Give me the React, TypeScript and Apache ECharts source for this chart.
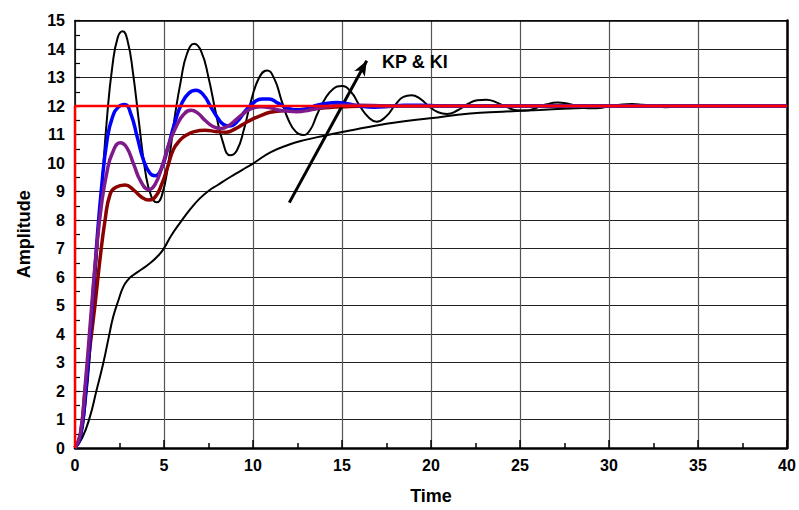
import React, { useEffect, useRef } from "react";
import * as echarts from "echarts";

const xTicks = { min: 0, max: 40, interval: 5 };
const yTicks = { min: 0, max: 15, interval: 1 };

const setpoint: number[][] = [[0, 0], [0, 12], [40, 12]];

const blackFast: number[][] = [
  [0, 0], [0.3, 0.3], [0.6, 1.6], [0.9, 3.8], [1.2, 6.5], [1.5, 9.1], [1.8, 11.6], [2.1, 13.4],
  [2.4, 14.4], [2.68, 14.62], [2.95, 14.3], [3.25, 13.2], [3.6, 11.4], [3.95, 9.7], [4.3, 8.8],
  [4.6, 8.62], [4.9, 8.9], [5.25, 10.0], [5.6, 11.6], [5.95, 12.9], [6.3, 13.85], [6.7, 14.18],
  [7.1, 13.9], [7.5, 13.0], [7.9, 11.8], [8.3, 10.75], [8.72, 10.27], [9.1, 10.45], [9.5, 11.2],
  [9.9, 12.2], [10.35, 13.0], [10.78, 13.25], [11.2, 12.95], [11.6, 12.2], [12.0, 11.5],
  [12.4, 11.1], [12.8, 10.98], [13.2, 11.15], [13.6, 11.7], [14.0, 12.2], [14.5, 12.6],
  [14.98, 12.7], [15.5, 12.5], [16.0, 12.0], [16.5, 11.6], [16.95, 11.45], [17.5, 11.65],
  [18.0, 12.05], [18.45, 12.32], [18.9, 12.38], [19.4, 12.25], [19.9, 11.98], [20.4, 11.78],
  [20.9, 11.72], [21.5, 11.85], [22.1, 12.08], [22.6, 12.2], [23.1, 12.22], [23.7, 12.12],
  [24.3, 11.95], [24.8, 11.85], [25.3, 11.84], [25.9, 11.93], [26.5, 12.06], [27.1, 12.12],
  [27.7, 12.08], [28.3, 11.99], [28.8, 11.92], [29.3, 11.92], [29.9, 11.97], [30.6, 12.04],
  [31.3, 12.07], [31.9, 12.04], [32.5, 11.99], [33.2, 11.96], [33.9, 11.98], [34.6, 12.02],
  [35.4, 12.03], [36.2, 12.01], [37.0, 11.99], [37.8, 11.99], [38.6, 12.0], [40, 12.0],
];

const blue: number[][] = [
  [0, 0], [0.3, 0.4], [0.6, 2.0], [0.9, 4.4], [1.2, 7.0], [1.5, 9.2], [1.8, 10.8], [2.1, 11.6],
  [2.45, 11.97], [2.8, 12.05], [3.15, 11.7], [3.5, 10.9], [3.85, 10.1], [4.2, 9.65], [4.5, 9.55],
  [4.85, 9.8], [5.2, 10.5], [5.6, 11.4], [6.0, 12.1], [6.4, 12.45], [6.8, 12.55], [7.2, 12.4],
  [7.6, 12.0], [8.0, 11.6], [8.35, 11.35], [8.7, 11.3], [9.1, 11.45], [9.6, 11.85], [10.1, 12.15],
  [10.5, 12.25], [10.9, 12.25], [11.4, 12.1], [11.9, 11.93], [12.45, 11.86], [13.0, 11.9],
  [13.6, 12.03], [14.2, 12.1], [14.7, 12.12], [15.3, 12.08], [16.0, 12.0], [16.8, 11.96],
  [17.6, 11.98], [18.5, 12.03], [19.4, 12.03], [20.5, 12.0], [40, 12.0],
];

const purple: number[][] = [
  [0, 0], [0.3, 0.5], [0.6, 2.4], [0.9, 4.7], [1.2, 6.9], [1.5, 8.6], [1.8, 9.7], [2.1, 10.35],
  [2.53, 10.71], [2.9, 10.55], [3.3, 9.95], [3.7, 9.35], [4.15, 9.07], [4.5, 9.25], [4.9, 9.9],
  [5.3, 10.7], [5.7, 11.3], [6.1, 11.7], [6.52, 11.85], [6.9, 11.75], [7.3, 11.5], [7.75, 11.28],
  [8.2, 11.21], [8.6, 11.3], [9.1, 11.55], [9.6, 11.8], [10.0, 11.93], [10.45, 11.97],
  [10.9, 11.95], [11.5, 11.85], [12.45, 11.8], [13.2, 11.86], [14.0, 11.96], [15.0, 12.03],
  [16.0, 12.03], [17.5, 12.0], [40, 12.0],
];

const maroon: number[][] = [
  [0, 0], [0.3, 0.45], [0.56, 2.0], [0.85, 3.6], [1.12, 5.0], [1.4, 6.6], [1.69, 8.0], [1.97, 8.9],
  [2.3, 9.15], [2.81, 9.23], [3.3, 9.05], [3.75, 8.8], [4.15, 8.7], [4.5, 8.8], [4.9, 9.3],
  [5.2, 9.85], [5.52, 10.46], [5.9, 10.8], [6.27, 10.98], [6.7, 11.1], [7.3, 11.15], [7.96, 11.1],
  [8.5, 11.08], [9.0, 11.2], [9.5, 11.38], [10.0, 11.55], [10.5, 11.68], [10.96, 11.78],
  [11.8, 11.84], [12.8, 11.88], [13.8, 11.92], [15.0, 11.97], [16.5, 12.0], [40, 12.0],
];

const blackSlow: number[][] = [
  [0, 0], [0.4, 0.35], [0.84, 1.1], [1.2, 2.0], [1.59, 2.98], [1.9, 3.9], [2.15, 4.61],
  [2.45, 5.2], [2.72, 5.66], [3.0, 5.92], [3.28, 6.07], [3.75, 6.27], [4.21, 6.48], [4.6, 6.7],
  [4.96, 6.97], [5.4, 7.45], [5.9, 7.9], [6.5, 8.4], [7.0, 8.75], [7.5, 9.02], [8.0, 9.22],
  [8.7, 9.5], [9.4, 9.76], [10.02, 9.99], [11.0, 10.38], [12.0, 10.64], [13.0, 10.82],
  [13.95, 10.95], [15.3, 11.12], [16.57, 11.27], [18.0, 11.42], [19.94, 11.57], [22.2, 11.74],
  [24.0, 11.8], [26.1, 11.86], [28.5, 11.93], [31.7, 12.0], [35, 12.0], [40, 12.0],
];

const arrowStart = [12.04, 8.61];
const arrowEnd = [16.39, 13.59];
const arrowText = "KP & KI";
const xName = "Time";
const yName = "Amplitude";

const FONT = "'Liberation Sans', Arial, Helvetica, sans-serif";

export default function App() {
  const ref = useRef<HTMLDivElement>(null);
  useEffect(() => {
    document.body.style.margin = "0";
    const chart = echarts.init(ref.current!, null, { renderer: "svg" });
    const labelStyle = { color: "#000", fontWeight: "bold" as const, fontSize: 16, fontFamily: FONT };
    const line = (data: number[][], color: string, width: number, z: number, extra: any = {}) => ({
      type: "line",
      data,
      smooth: 0.5,
      symbol: "none",
      lineStyle: { color, width },
      z,
      ...extra,
    });
    chart.setOption({
      animation: false,
      backgroundColor: "#fff",
      grid: { left: 75, right: 12, top: 20.5, bottom: 62, containLabel: false },
      xAxis: [
        {
          type: "value",
          position: "bottom",
          min: xTicks.min,
          max: xTicks.max,
          interval: xTicks.interval,
          name: xName,
          nameLocation: "middle",
          nameGap: 39,
          nameTextStyle: { ...labelStyle, fontSize: 18 },
          axisLine: { show: true, onZero: false, lineStyle: { color: "#000", width: 2.5 } },
          axisTick: { show: true, inside: true, length: 8, lineStyle: { color: "#000", width: 1.5 } },
          minorTick: { show: true, splitNumber: 2, length: 5, lineStyle: { color: "#000", width: 1.5 } },
          axisLabel: { ...labelStyle, margin: 9 },
          splitLine: { show: true, lineStyle: { color: "#555", width: 1.2 } },
        },
        {
          type: "value",
          position: "top",
          min: xTicks.min,
          max: xTicks.max,
          interval: xTicks.interval,
          axisLine: { show: true, onZero: false, lineStyle: { color: "#000", width: 1.5 } },
          axisTick: { show: false },
          axisLabel: { show: false },
          splitLine: { show: false },
        },
      ],
      yAxis: [
        {
          type: "value",
          position: "left",
          min: yTicks.min,
          max: yTicks.max,
          interval: yTicks.interval,
          name: yName,
          nameLocation: "middle",
          nameGap: 42,
          nameRotate: 90,
          nameTextStyle: { ...labelStyle, fontSize: 18 },
          axisLine: { show: true, onZero: false, lineStyle: { color: "#000", width: 1.5 } },
          axisTick: { show: true, inside: true, length: 5, lineStyle: { color: "#000", width: 1.2 } },
          minorTick: { show: true, splitNumber: 2, length: 5, lineStyle: { color: "#000", width: 1.2 } },
          axisLabel: { ...labelStyle, margin: 10 },
          splitLine: { show: true, lineStyle: { color: "#222", width: 1 } },
        },
        {
          type: "value",
          position: "right",
          min: yTicks.min,
          max: yTicks.max,
          interval: yTicks.interval,
          axisLine: { show: true, onZero: false, lineStyle: { color: "#000", width: 2.5 } },
          axisTick: { show: false },
          axisLabel: { show: false },
          splitLine: { show: false },
        },
      ],
      series: [
        line(blackSlow, "#000", 2, 2, {
          markLine: {
            silent: true,
            symbol: ["none", "arrow"],
            symbolSize: [9, 15],
            label: { show: false },
            lineStyle: { color: "#000", width: 3, type: "solid" },
            data: [[{ coord: arrowStart }, { coord: arrowEnd }]],
          },
        }),
        line(blackFast, "#000", 2, 3),
        line(maroon, "#8b0000", 3.5, 4),
        line(blue, "#0000ff", 3.5, 5),
        line(purple, "#7f1a8a", 3.5, 6),
        { type: "line", data: setpoint, symbol: "none", lineStyle: { color: "#ff0000", width: 2.5 }, z: 7 },
      ],
      graphic: [
        {
          type: "text",
          x: 382,
          y: 62,
          style: { text: arrowText, fill: "#000", font: `bold 18px ${FONT}`, verticalAlign: "middle" },
          z: 10,
        },
      ],
    });
    return () => chart.dispose();
  }, []);
  return <div ref={ref} style={{ width: 799, height: 510 }} />;
}
